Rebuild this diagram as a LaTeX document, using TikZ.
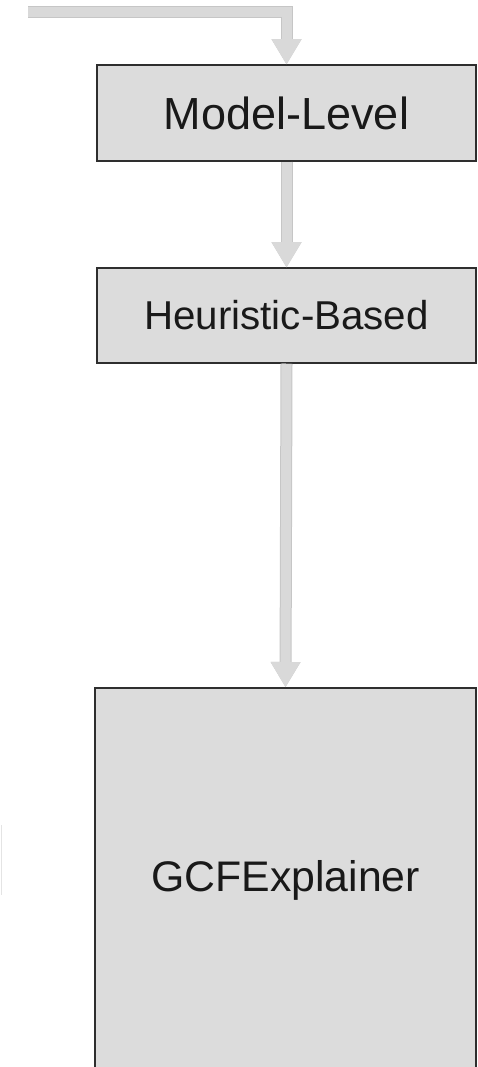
\documentclass[tikz,border=0pt]{standalone}
\usepackage{fontspec}
\setmainfont{Liberation Sans}
\usetikzlibrary{arrows.meta}
\definecolor{boxfill}{HTML}{DCDCDC}
\definecolor{boxline}{HTML}{2E2E2E}
\definecolor{shaft}{HTML}{D9D9D9}
\definecolor{shaftedge}{HTML}{C6C6C6}
\definecolor{faint}{HTML}{E4E4E4}
\tikzset{
  stagebox/.style={draw=boxline, fill=boxfill, line width=1.5pt, inner sep=0pt, text=black!90},
  conn/.style={draw=shaft, line width=10pt,
    preaction={draw=shaftedge, line width=12pt},
    -{Triangle[width=30pt,length=25pt,line width=0pt]}},
}
\begin{document}
\begin{tikzpicture}[x=1pt,y=-1pt]
\useasboundingbox (0,0) rectangle (477,1067);
\node[stagebox, minimum width=379pt, minimum height=96pt,
      font=\fontsize{45}{50}\selectfont] (ml) at (286.5,113) {Model-Level};
\node[stagebox, minimum width=379pt, minimum height=95pt,
      font=\fontsize{40.3}{46}\selectfont] (hb) at (286.5,315.5) {Heuristic-Based};
\node[stagebox, anchor=north, minimum width=381pt, text height=204pt, text depth=190pt,
      font=\fontsize{42.8}{48}\selectfont] (gcf) at (285.5,687) {GCFExplainer};
\coordinate (src) at (28,12);
\draw[conn] (src) -| (ml.north);
\draw[conn] (ml.south) -- (hb.north);
\draw[conn] (hb.south) -- (gcf.north);
\draw[faint, line width=1pt] (1.5,825) -- (1.5,895);
\end{tikzpicture}
\end{document}
